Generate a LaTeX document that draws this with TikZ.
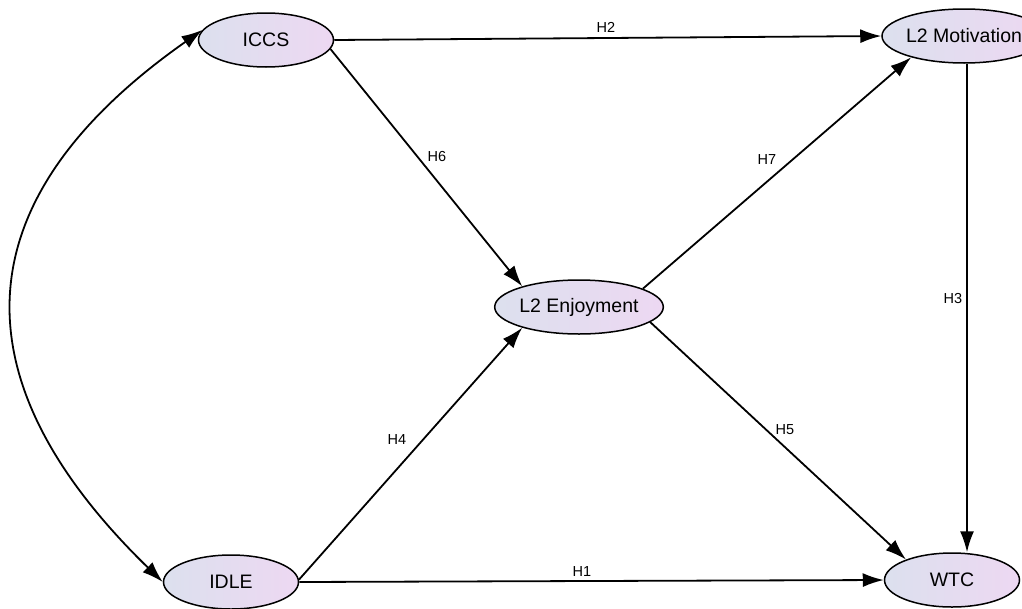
\documentclass[tikz,border=0pt]{standalone}
\usepackage{fontspec}
\setmainfont{Liberation Sans}
\usetikzlibrary{shapes.geometric,arrows.meta}
\definecolor{lftc}{HTML}{DCE0EE}
\definecolor{rgtc}{HTML}{EDD8F2}
\tikzset{
  latent/.style={ellipse, draw=black, line width=1.5pt, left color=lftc, right color=rgtc,
    minimum width=135pt, minimum height=54pt, inner sep=0pt,
    font=\fontsize{19.5}{21}\selectfont},
  tip/.tip={Latex[length=21pt,width=14pt]},
  path/.style={line width=1.8pt, -tip},
  lbl/.style={font=\fontsize{14.5}{16}\selectfont, inner sep=0pt}
}
\begin{document}
\begin{tikzpicture}[x=1pt,y=-1pt]
\useasboundingbox[fill=white] (0,0) rectangle (1022,608);
\node[latent] (ICCS) at (266,40) {ICCS};
\node[latent] (MOT) at (964,36) {L2 Motivation};
\node[latent] (ENJ) at (579,307) {L2 Enjoyment};
\node[latent] (IDLE) at (231,582) {IDLE};
\node[latent] (WTC) at (952,580) {WTC};

\draw[path] (ICCS.east) -- (MOT.west);
\draw[path] (ICCS.-8) -- (ENJ.160);
\draw[path] (ENJ.16) -- (MOT.-158);
\draw[path] (IDLE.2) -- (ENJ.-160);
\draw[path] (ENJ.-12) -- (WTC.156);
\draw[path] (IDLE.east) -- (WTC.west);
\draw[path] ([xshift=3pt]MOT.south) -- ([xshift=3pt]MOT.south |- WTC.north);
\draw[line width=1.8pt, tip-tip]
  (ICCS.171) .. controls (-40,200) and (-45,380) .. (IDLE.west);

\node[lbl] (h2) at (606,27) {H2};
\node[lbl] (h6) at (437,157) {H6};
\node[lbl] (h7) at (767,160) {H7};
\node[lbl] (h3) at (953,299) {H3};
\node[lbl] (h4) at (397,440) {H4};
\node[lbl] (h5) at (785,430) {H5};
\node[lbl] (h1) at (582,572) {H1};
\end{tikzpicture}
\end{document}
